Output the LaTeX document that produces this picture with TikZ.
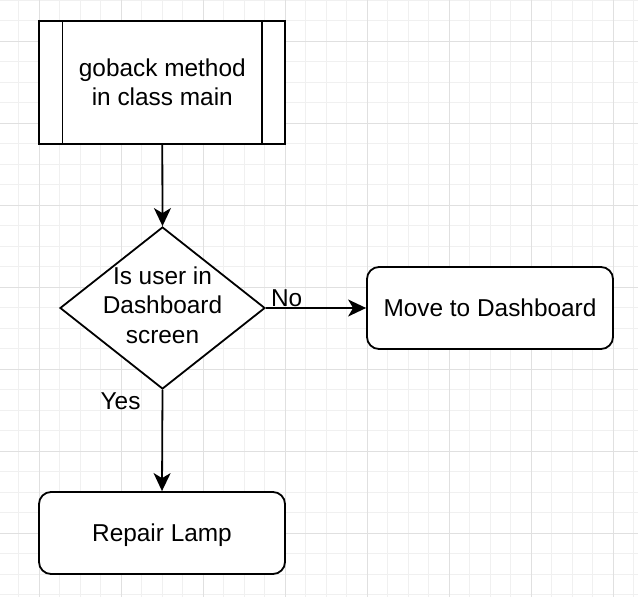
\documentclass[tikz,border=0pt]{standalone}
\usepackage{fontspec}
\setmainfont{Liberation Sans}
\usetikzlibrary{shapes.geometric,arrows.meta,calc}
\begin{document}
\begin{tikzpicture}[x=1pt,y=-1pt,
  every node/.style={font=\fontsize{24.4}{29.5}\selectfont},
  minorgrid/.style={draw=black!6,line width=1pt},
  majorgrid/.style={draw=black!12,line width=1pt},
  shapebox/.style={draw=black,line width=1.8pt,minimum width=246pt,inner sep=0pt,align=center},
  roundbox/.style={shapebox,rounded corners=12pt,minimum height=82pt,text depth=0pt},
  conn/.style={draw=black,line width=1.8pt,-{Stealth[length=18pt,width=17pt,inset=5pt]}},
  lbl/.style={inner sep=0pt}
]
\useasboundingbox (0,0) rectangle (638,597);
\fill[white] (0,0) rectangle (638,597);
% grid
\foreach \i in {0,...,31} {
  \draw[minorgrid] ({-1.7+20.5*\i},0) -- ({-1.7+20.5*\i},597);
  \draw[minorgrid] (0,{0.3+20.5*\i}) -- (638,{0.3+20.5*\i});
}
\foreach \i in {0,...,7} {
  \draw[majorgrid] ({39.3+82*\i},0) -- ({39.3+82*\i},597);
  \draw[majorgrid] (0,{41.3+82*\i}) -- (638,{41.3+82*\i});
}
% nodes
\node[shapebox,fill=white,minimum height=123pt] (start) at (162.3,82.5) {goback method\\in class main};
\draw[line width=1.8pt] ([xshift=24pt]start.north west) -- ([xshift=24pt]start.south west);
\draw[line width=1.8pt] ([xshift=-24pt]start.north east) -- ([xshift=-24pt]start.south east);
\node[diamond,draw=black,fill=white,line width=1.8pt,minimum width=205pt,minimum height=162pt,inner sep=0pt,
  label={[align=center,yshift=3pt]center:Is user in\\Dashboard\\screen}] (dec) at (162.5,308) {};
\node[roundbox,fill=white] (move) at (490,308) {Move to Dashboard};
\node[roundbox,fill=white] (repair) at (162,533) {Repair Lamp};
% connectors
\draw[conn] (start.south) -- (dec.north);
\draw[conn] (dec.east) -- (move.west);
\draw[conn] (dec.south) -- (repair.north);
% labels
\node[lbl,anchor=base west] (nolbl) at ($(dec.east)+(5,-2)$) {No};
\node[lbl,anchor=base east] (yeslbl) at ($(dec.south)+(-21.8,20)$) {Yes};
\end{tikzpicture}
\end{document}
